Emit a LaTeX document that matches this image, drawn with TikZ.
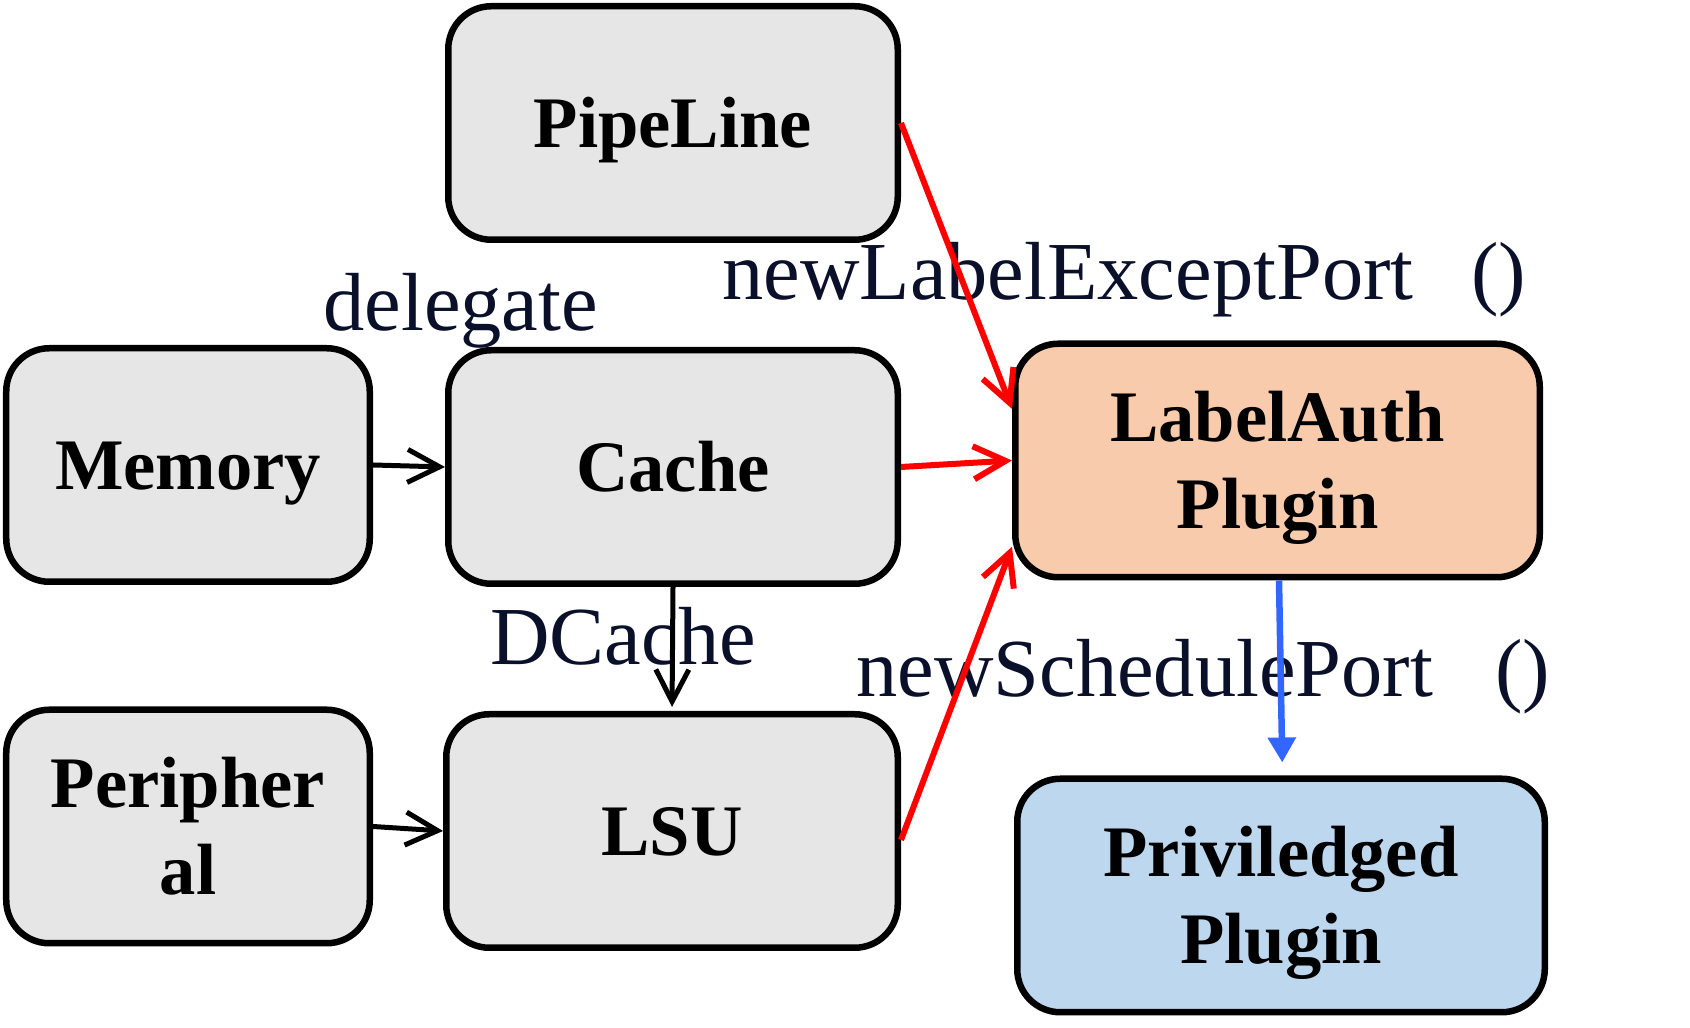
\documentclass[tikz,border=0pt]{standalone}
\usepackage{fontspec}
\setmainfont{Liberation Serif}
\usetikzlibrary{arrows.meta}

\definecolor{boxgray}{HTML}{E6E6E6}
\definecolor{authpeach}{HTML}{F8CBAD}
\definecolor{privblue}{HTML}{BDD7EE}
\definecolor{portblue}{HTML}{3366FF}
\definecolor{labelnavy}{RGB}{10,16,42}
\newcommand{\linestrut}{\rule[-0.216em]{0pt}{1.107em}}

\begin{document}
\begin{tikzpicture}
            \tikzstyle{b}=[rectangle,draw,rounded corners=0.86cm,line width=0.13cm,fill=boxgray,minimum height=4.67cm,align=center,inner sep=0pt,font=\bfseries\fontsize{41.3}{49.5}\selectfont,execute at begin node=\linestrut,execute at end node=\linestrut]
            \tikzstyle{t}=[anchor=base west,inner sep=0pt,text=labelnavy,font=\fontsize{46.9}{56}\selectfont]
            \tikzstyle{k}=[black,line width=0.1cm,-{Straight Barb[length=0.64cm,width=0.66cm]}]
            \tikzstyle{r}=[red,line width=0.12cm,-{Straight Barb[length=0.64cm,width=0.66cm]}]
            \tikzstyle{p}=[portblue,line width=0.13cm,-{Triangle[length=0.5cm,width=0.54cm]}]

            \useasboundingbox (0,0) rectangle (33.8,20.56);

            \node [b,minimum width=8.99cm] (pipe) at (13.46,18.10) {PipeLine};
            \node [b,minimum width=7.27cm] (mem) at (3.76,11.26) {Memory};
            \node [b,minimum width=8.99cm] (cache) at (13.46,11.22) {Cache};
            \node [b,minimum width=7.27cm] (per) at (3.76,4.03) {\linestrut Peripher\\al};
            \node [b,minimum width=9.03cm] (lsu) at (13.44,3.94) {LSU};
            \node [b,minimum width=10.49cm,fill=authpeach] (la) at (25.55,11.35) {\linestrut LabelAuth\\Plugin};
            \node [b,minimum width=10.55cm,fill=privblue] (pp) at (25.62,2.65) {\linestrut Priviledged\\Plugin};

            \node [t] (deleg) at (6.46,13.94) {delegate};
            \node [t] (dcache) at (9.80,7.26) {DCache};
            \node [t] (exc) at (14.44,14.56) {newLabelExceptPort\hspace{0.7em}()};
            \node [t] (sched) at (17.12,6.62) {newSchedulePort\hspace{0.75em}()};

            \draw [k] (mem.east) -- (cache.west);
            \draw [k] (per.east) -- (lsu.west);
            \draw [k,shorten >=0.08cm] (cache.south) -- (lsu.north);
            \draw [r] (pipe.east) -- (la.169);
            \draw [r] (cache.east) -- (la.west);
            \draw [r] ([yshift=-0.18cm]lsu.east) -- (la.198);
            \draw [p,shorten >=0.26cm] ([xshift=0.03cm]la.south) -- ([xshift=0.03cm]pp.north);
        \end{tikzpicture}
\end{document}
